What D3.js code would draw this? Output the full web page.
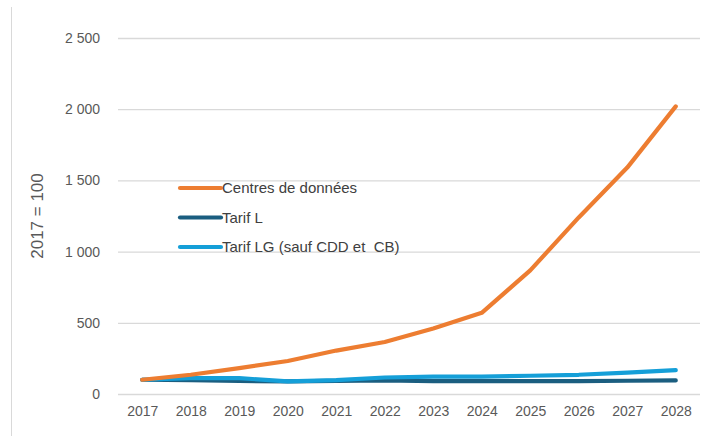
<!DOCTYPE html>
<html>
<head>
<meta charset="utf-8">
<script src="https://cdn.jsdelivr.net/npm/d3@7"></script>
<style>
  body { margin: 0; background: #fff; }
  svg { display: block; font-family: "Liberation Sans", Arial, sans-serif; }
  .tick text { fill: #595959; font-size: 14px; }
</style>
</head>
<body>
<svg id="chart" width="708" height="436"></svg>
<script>
// values (2017 = 100)
const years = ["2017", "2018", "2019", "2020", "2021", "2022", "2023", "2024", "2025", "2026", "2027", "2028"];
const centresDonnees = [100, 135, 182, 232, 305, 365, 460, 570, 868, 1240, 1590, 2020];
const tarifL = [100, 98, 92, 88, 92, 95, 90, 90, 90, 90, 93, 95];
const tarifLG = [100, 112, 112, 88, 98, 116, 122, 122, 128, 135, 150, 168];
const yTicks = [0, 500, 1000, 1500, 2000, 2500];

const series = [
  {name: "Centres de données", values: centresDonnees, color: "#ED7D31"},
  {name: "Tarif L", values: tarifL, color: "#1B5E80"},
  {name: "Tarif LG (sauf CDD et  CB)", values: tarifLG, color: "#159FD8"}
];

const svg = d3.select("#chart");
const plot = {left: 118, right: 700, top: 38, bottom: 394};

// outer frame line on the left
svg.append("line")
  .attr("x1", 11.5).attr("x2", 11.5)
  .attr("y1", 7).attr("y2", 436)
  .attr("stroke", "#d9d9d9").attr("stroke-width", 1);

const x = d3.scalePoint().domain(years).range([plot.left, plot.right]).padding(0.5);
const y = d3.scaleLinear().domain([0, 2500]).range([plot.bottom, plot.top]);

const fr = d3.formatLocale({decimal: ",", thousands: "\u00a0", grouping: [3], currency: ["", " €"]});
const fmt = fr.format(",d");

// gridlines + y labels
const yAxis = d3.axisLeft(y).tickValues(yTicks).tickFormat(fmt)
  .tickSize(-(plot.right - plot.left)).tickPadding(18);
const gy = svg.append("g").attr("transform", "translate(" + plot.left + ",0)").call(yAxis);
gy.select(".domain").remove();
gy.selectAll(".tick line").attr("stroke", "#d9d9d9").attr("stroke-width", 1.3);

const xAxis = d3.axisBottom(x).tickSize(0).tickPadding(12);
const gx = svg.append("g").attr("transform", "translate(0," + plot.bottom + ")").call(xAxis);
gx.select(".domain").remove();

// y title
svg.append("text")
  .attr("transform", "translate(43,216) rotate(-90)")
  .attr("text-anchor", "middle")
  .attr("fill", "#595959")
  .style("font-size", "17px")
  .text("2017 = 100");

const line = d3.line()
  .x((d, i) => x(years[i]))
  .y(d => y(d))
  .curve(d3.curveLinear);

// dark line sits under the light blue one in the picture
const drawOrder = [series[1], series[2], series[0]];
svg.append("g").selectAll("path")
  .data(drawOrder)
  .join("path")
  .attr("d", d => line(d.values))
  .attr("fill", "none")
  .attr("stroke", d => d.color)
  .attr("stroke-width", 4.2)
  .attr("stroke-linecap", "round")
  .attr("stroke-linejoin", "round");

// legend
const legend = svg.append("g").attr("transform", "translate(180,188)");
const items = legend.selectAll("g").data(series).join("g")
  .attr("transform", (d, i) => "translate(0," + i * 29.5 + ")");
items.append("line")
  .attr("x1", 0).attr("x2", 41)
  .attr("stroke", d => d.color)
  .attr("stroke-width", 4.2)
  .attr("stroke-linecap", "round");
items.append("text")
  .attr("x", 42).attr("dy", "0.35em")
  .attr("fill", "#404040")
  .style("font-size", "15px")
  .style("white-space", "pre")
  .text(d => d.name);
</script>
</body>
</html>
